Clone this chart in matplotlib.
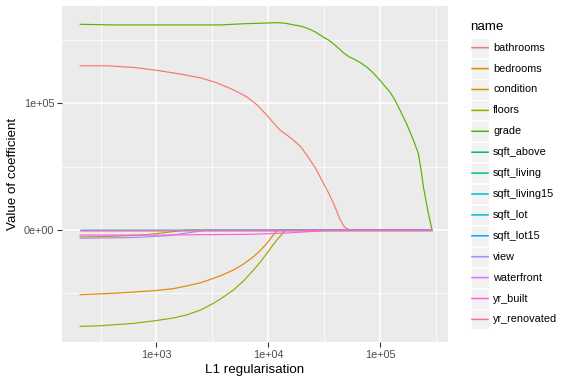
import numpy as np
import matplotlib
matplotlib.use("Agg")
import matplotlib.pyplot as plt
from matplotlib.lines import Line2D
from matplotlib.patches import Rectangle

plt.rcParams['font.family'] = ['Liberation Sans', 'DejaVu Sans']

names = ["bathrooms", "bedrooms", "condition", "floors", "grade", "sqft_above",
         "sqft_living", "sqft_living15", "sqft_lot", "sqft_lot15", "view",
         "waterfront", "yr_built", "yr_renovated"]
colors = ["#F8766D", "#E38900", "#C49A00", "#99A800", "#53B400", "#00BC56",
          "#00C094", "#00BFC4", "#00B6EB", "#06A4FF", "#A58AFF", "#DF70F8",
          "#FB61D7", "#FF66A8"]

X_END = 2.91e5

# log10(lambda) / coefficient pairs
bathrooms_lx = [2.3125, 2.56, 2.8, 3.006, 3.2, 3.39, 3.52, 3.63, 3.72, 3.81, 3.9, 3.988,
                4.05, 4.107, 4.17, 4.226, 4.29, 4.345, 4.42, 4.494, 4.54, 4.583, 4.62,
                4.643, 4.68, 4.717, 4.732]
bathrooms_y = [1.293e5, 1.293e5, 1.28e5, 1.257e5, 1.23e5, 1.199e5, 1.165e5, 1.126e5,
               1.09e5, 1.047e5, 0.985e5, 0.903e5, 0.84e5, 0.785e5, 0.745e5, 0.707e5,
               0.655e5, 0.589e5, 0.49e5, 0.366e5, 0.29e5, 0.209e5, 0.13e5, 0.079e5,
               0.025e5, 0.005e5, 0.0]

bedrooms_lx = [2.3125, 2.65, 3.006, 3.15, 3.274, 3.4, 3.512, 3.6, 3.69, 3.78, 3.869,
               3.93, 3.988, 4.04, 4.077, 4.083]
bedrooms_y = [-0.510e5, -0.497e5, -0.476e5, -0.462e5, -0.440e5, -0.414e5, -0.380e5,
              -0.350e5, -0.314e5, -0.267e5, -0.209e5, -0.160e5, -0.105e5, -0.045e5,
              -0.008e5, 0.0]

condition_lx = [2.3125, 2.6, 2.9, 3.1, 3.26]
condition_y = [-5.5e3, -5.0e3, -3.8e3, -1.8e3, 0.0]

floors_lx = [2.3125, 2.50, 2.8, 3.006, 3.15, 3.274, 3.4, 3.512, 3.6, 3.69, 3.78, 3.869,
             3.93, 3.988, 4.04, 4.077, 4.12, 4.152]
floors_y = [-0.759e5, -0.754e5, -0.735e5, -0.712e5, -0.693e5, -0.668e5, -0.628e5,
            -0.576e5, -0.527e5, -0.471e5, -0.400e5, -0.314e5, -0.250e5, -0.183e5,
            -0.120e5, -0.079e5, -0.035e5, 0.0]

grade_lx = [2.3125, 2.619, 3.571, 3.8, 3.988, 4.092, 4.16, 4.226, 4.29, 4.345, 4.42,
            4.494, 4.54, 4.583, 4.63, 4.673, 4.72, 4.762, 4.82, 4.881, 4.94, 5.0,
            5.05, 5.089, 5.135, 5.179, 5.24, 5.298, 5.342, 5.365, 5.387, 5.41,
            5.432, 5.464]
grade_y = [1.62e5, 1.615e5, 1.615e5, 1.625e5, 1.63e5, 1.633e5, 1.627e5, 1.615e5,
           1.605e5, 1.59e5, 1.56e5, 1.518e5, 1.495e5, 1.466e5, 1.43e5, 1.395e5,
           1.365e5, 1.348e5, 1.32e5, 1.283e5, 1.235e5, 1.178e5, 1.125e5, 1.086e5,
           1.02e5, 0.942e5, 0.83e5, 0.707e5, 0.602e5, 0.48e5, 0.34e5, 0.23e5,
           0.13e5, 0.0]

view_lx = [2.3125, 2.6, 2.83, 3.1, 3.3, 3.455]
view_y = [-6.5e3, -6.2e3, -5.8e3, -4.5e3, -2.0e3, 0.0]

yr_built_lx = [2.3125, 3.0, 3.84, 4.2, 4.45, 4.58]
yr_built_y = [-4.0e3, -4.0e3, -3.4e3, -2.2e3, -0.8e3, 0.0]

zero_lx = [2.3125, 5.464]
zero_y = [0.0, 0.0]

series = {
    "bathrooms": (bathrooms_lx, bathrooms_y),
    "bedrooms": (bedrooms_lx, bedrooms_y),
    "condition": (condition_lx, condition_y),
    "floors": (floors_lx, floors_y),
    "grade": (grade_lx, grade_y),
    "sqft_above": (zero_lx, zero_y),
    "sqft_living": (zero_lx, zero_y),
    "sqft_living15": (zero_lx, zero_y),
    "sqft_lot": (zero_lx, zero_y),
    "sqft_lot15": (zero_lx, zero_y),
    "view": (view_lx, view_y),
    "waterfront": (zero_lx, zero_y),
    "yr_built": (yr_built_lx, yr_built_y),
    "yr_renovated": (zero_lx, zero_y),
}

W, H = 570, 383
fig = plt.figure(figsize=(W / 100, H / 100), dpi=100)
pl, pr, pt, pb = 62, 448, 6, 342
ax = fig.add_axes([pl / W, 1 - pb / H, (pr - pl) / W, (pb - pt) / H])
ax.set_facecolor("#EBEBEB")

for name, col in zip(names, colors):
    lx, y = series[name]
    xs = list(10 ** np.array(lx))
    ys = list(y)
    if xs[-1] < X_END * 0.999:
        xs.append(X_END)
        ys.append(0.0)
    ax.plot(xs, ys, color=col, lw=0.85, solid_capstyle="butt", zorder=3)

ax.set_xscale("log")
ax.set_xlim(10 ** 2.155, 10 ** 5.607)
ax.set_ylim(-0.882e5, 1.764e5)

ax.set_xticks([1e3, 1e4, 1e5])
ax.set_xticklabels(["1e+03", "1e+04", "1e+05"])
ax.set_xticks([10 ** 2.5, 10 ** 3.5, 10 ** 4.5, 10 ** 5.5], minor=True)
ax.set_yticks([0, 1e5])
ax.set_yticklabels(["0e+00", "1e+05"])
ax.set_yticks([-0.5e5, 0.5e5, 1.5e5], minor=True)

ax.grid(which="major", color="white", lw=1.1, zorder=1)
ax.grid(which="minor", color="white", lw=0.55, zorder=1)
ax.set_axisbelow(True)
for s in ax.spines.values():
    s.set_visible(False)
ax.tick_params(which="major", length=3.5, width=0.8, color="#333333",
               labelcolor="#4D4D4D", labelsize=7.8, pad=2)
ax.tick_params(which="minor", length=0, labelbottom=False, labelleft=False)

fig.text(255 / W, 1 - 370 / H, "L1 regularisation", ha="center", va="center",
         fontsize=9.6, color="black")
fig.text(13 / W, 1 - 174 / H, "Value of coefficient", ha="center", va="center",
         rotation=90, fontsize=9.6, color="black")

# legend
fig.text(470 / W, 1 - 27 / H, "name", ha="left", va="center", fontsize=9.6)
row0, dy = 47.7, 20.9
for i, (name, col) in enumerate(zip(names, colors)):
    yc = row0 + i * dy
    fig.patches.append(Rectangle((471 / W, 1 - (yc + 10) / H), 18 / W, 20 / H,
                                 transform=fig.transFigure, facecolor="#F2F2F2",
                                 edgecolor="white", lw=0.6))
    fig.lines.append(Line2D([472 / W, 488 / W], [1 - yc / H, 1 - yc / H],
                            transform=fig.transFigure, color=col, lw=1.1,
                            snap=False))
    fig.text(493 / W, 1 - yc / H, name, ha="left", va="center", fontsize=7.8,
             color="black")

fig.savefig("out.png", dpi=100)
